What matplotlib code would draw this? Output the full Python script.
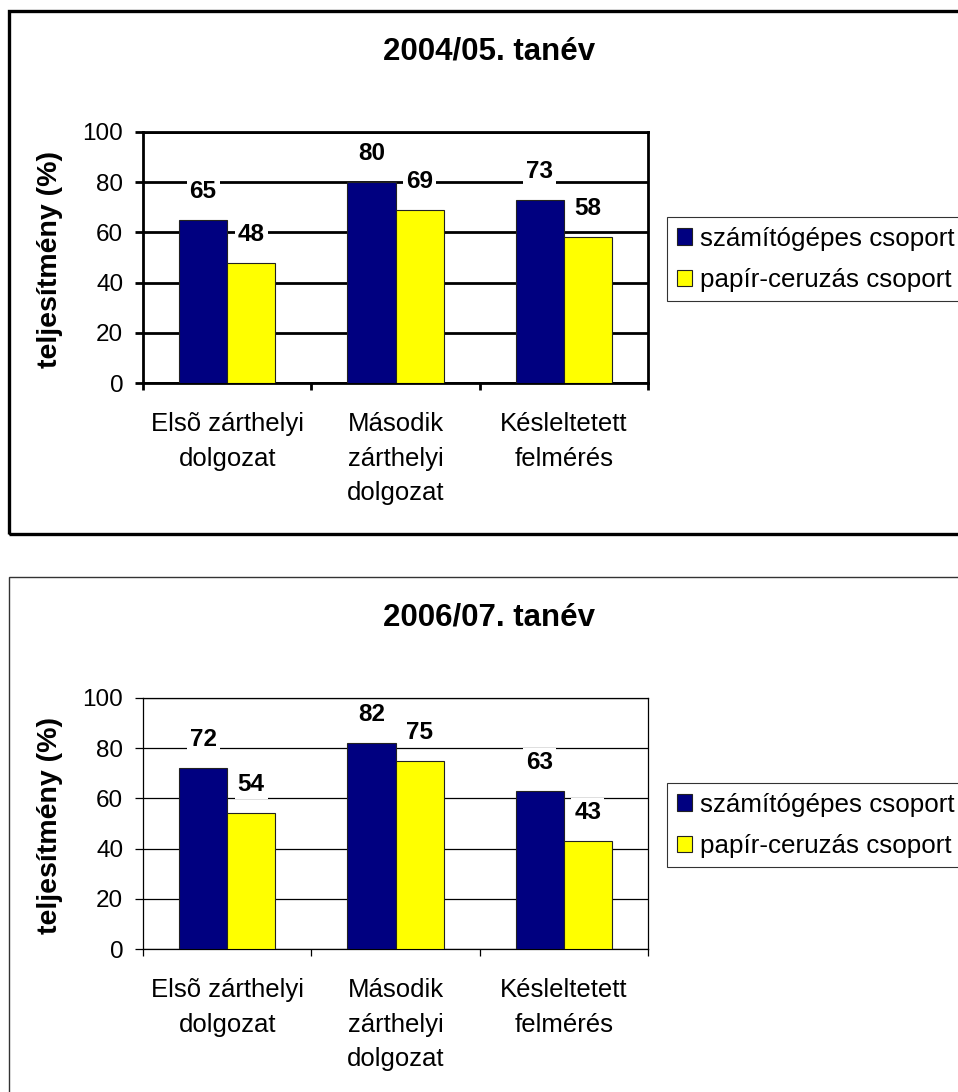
import numpy as np
import matplotlib.pyplot as plt
from matplotlib.patches import Rectangle
from matplotlib.ticker import MultipleLocator, FixedLocator

plt.rcParams['font.family'] = ['Liberation Sans', 'DejaVu Sans']

categories = ['Elsõ zárthelyi\ndolgozat', 'Második\nzárthelyi\ndolgozat', 'Késleltetett\nfelmérés']
series_names = ['számítógépes csoport', 'papír-ceruzás csoport']
titles = ['2004/05. tanév', '2006/07. tanév']
computer_0405 = [65, 80, 73]
paper_0405 = [48, 69, 58]
computer_0607 = [72, 82, 63]
paper_0607 = [54, 75, 43]

W, H = 958, 1092
fig = plt.figure(figsize=(W / 100, H / 100), dpi=100)


def fx(px):
    return px / W


def fy(py):
    return 1 - py / H


def panel(off, title, comp, paper, lw, frame_bottom, frame_lw, frame_col):
    # outer chart-area frame (runs off the right edge)
    fig.patches.append(Rectangle((fx(8.5), fy(frame_bottom)), 1.2,
                                 fy(11 + off) - fy(frame_bottom),
                                 transform=fig.transFigure, fill=False,
                                 edgecolor=frame_col, linewidth=frame_lw))
    fig.text(fx(489), fy(60 + off), title, ha='center', va='baseline',
             fontsize=22.5, fontweight='bold')

    ax = fig.add_axes([fx(143), fy(383 + off), fx(505), 251 / H])
    x = np.arange(len(categories))
    w = 1 / 3.5
    b1 = ax.bar(x - w / 2, comp, w, color='#000080', edgecolor='#222222',
                linewidth=0.8, zorder=3, label=series_names[0])
    b2 = ax.bar(x + w / 2, paper, w, color='#FFFF00', edgecolor='#222222',
                linewidth=0.8, zorder=3, label=series_names[1])
    for bars, vals in ((b1, comp), (b2, paper)):
        for rect, v in zip(bars, vals):
            ax.annotate(str(v), (rect.get_x() + rect.get_width() / 2, v),
                        xytext=(0, 20.5), textcoords='offset points',
                        ha='center', va='center', fontsize=17.5, fontweight='bold',
                        bbox=dict(boxstyle='square,pad=0.12', fc='white', ec='none'),
                        zorder=4)

    ax.set_xlim(-0.5, 2.5)
    ax.set_ylim(0, 100)
    ax.yaxis.set_major_locator(MultipleLocator(20))
    ax.grid(axis='y', color='black', linewidth=lw, zorder=0)
    ax.set_axisbelow(True)
    for s in ax.spines.values():
        s.set_linewidth(lw)
    ax.set_xticks(x)
    ax.set_xticklabels(categories, fontsize=18.5, linespacing=1.55, va='top')
    ax.xaxis.set_minor_locator(FixedLocator([-0.5, 0.5, 1.5, 2.5]))
    ax.tick_params(axis='x', which='major', length=0, pad=21)
    ax.tick_params(axis='x', which='minor', length=5, width=lw, direction='out')
    ax.tick_params(axis='y', length=5.8, width=lw, direction='out', pad=8.5,
                   labelsize=17.5)

    fig.text(fx(50), fy(259 + off), 'teljesítmény (%)', rotation=90,
             ha='center', va='center', fontsize=20.5, fontweight='bold')

    leg = ax.legend(loc='upper left', bbox_to_anchor=(fx(667), fy(217 + off)),
                    bbox_transform=fig.transFigure, fontsize=18.7, frameon=True,
                    fancybox=False, edgecolor='black', handlelength=0.58,
                    handleheight=0.58, handletextpad=0.33, borderpad=0.37,
                    labelspacing=0.66, borderaxespad=0)
    leg.get_frame().set_linewidth(0.8)
    return ax


panel(0, titles[0], computer_0405, paper_0405, 2.0, 534, 2.4, 'black')
panel(566, titles[1], computer_0607, paper_0607, 0.9, 1200, 1.0, '#333333')

fig.savefig('out.png', dpi=100)
